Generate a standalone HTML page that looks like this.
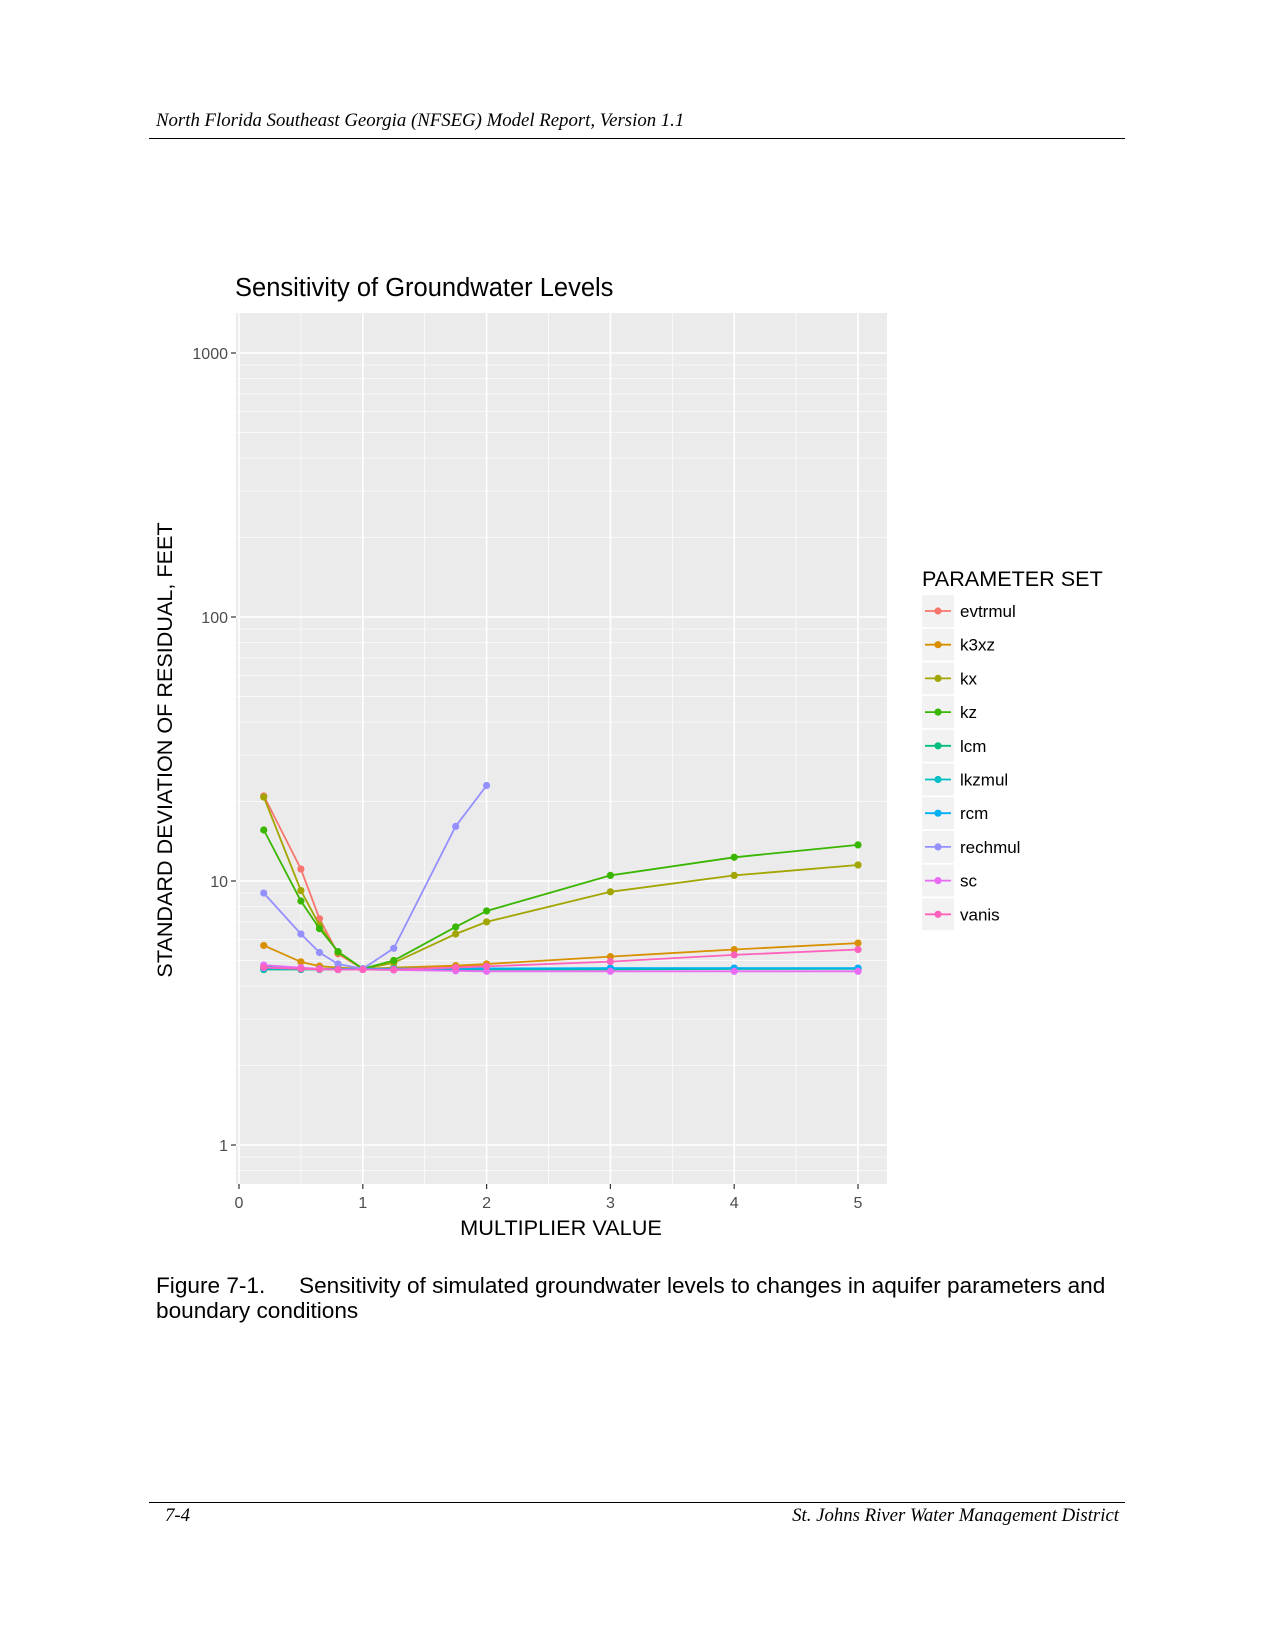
<!DOCTYPE html>
<html><head><meta charset="utf-8"><style>
body{margin:0;background:#fff}
svg{display:block;font-family:"Liberation Sans",Arial,sans-serif}
</style></head><body>
<svg id="chart" width="1275" height="1651" viewBox="0 0 1275 1651" xmlns="http://www.w3.org/2000/svg">
<text x="156" y="126" font-family="Liberation Serif" font-style="italic" font-size="18.8" fill="#000">North Florida Southeast Georgia (NFSEG) Model Report, Version 1.1</text>
<line x1="149" y1="138.5" x2="1125" y2="138.5" stroke="#000" stroke-width="1"/>
<text x="235" y="296" font-size="25.5" fill="#000">Sensitivity of Groundwater Levels</text>
<rect x="236" y="313" width="651" height="871" fill="#ebebeb"/>
<g id="grid"></g>
<g id="series"></g>
<g id="axes"></g>
<text transform="translate(172,750) rotate(-90)" text-anchor="middle" font-size="21.6" fill="#000">STANDARD DEVIATION OF RESIDUAL, FEET</text>
<text x="561" y="1235" text-anchor="middle" font-size="21.7" fill="#000">MULTIPLIER VALUE</text>
<g id="legend">
<text x="922" y="586" font-size="21.6" fill="#000">PARAMETER SET</text>
</g>
<text x="156" y="1293" font-size="22.6" fill="#000">Figure 7-1.<tspan x="299">Sensitivity of simulated groundwater levels to changes in aquifer parameters and</tspan></text>
<text x="156" y="1318" font-size="22.6" fill="#000">boundary conditions</text>
<line x1="149" y1="1502.5" x2="1125" y2="1502.5" stroke="#000" stroke-width="1"/>
<text x="165" y="1521" font-family="Liberation Serif" font-style="italic" font-size="18.8">7-4</text>
<text x="1119" y="1521" text-anchor="end" font-family="Liberation Serif" font-style="italic" font-size="18.8">St. Johns River Water Management District</text>
</svg>
<script>
const seriesNames = ["evtrmul","k3xz","kx","kz","lcm","lkzmul","rcm","rechmul","sc","vanis"];
const colors = ["#F8766D","#D89000","#A3A500","#39B600","#00BF7D","#00BFC4","#00B0F6","#9590FF","#E76BF3","#FF62BC"];
const xFull = [0.2,0.5,0.65,0.8,1,1.25,1.75,2,3,4,5];
const xShort = [0.2,0.5,0.65,0.8,1,1.25,1.75,2];
const evtrmul = [21,11.1,7.2,5.3,4.65,4.65,4.75,4.8];
const k3xz = [5.7,4.94,4.76,4.7,4.65,4.7,4.78,4.85,5.17,5.5,5.82];
const kx = [20.8,9.2,6.8,5.36,4.65,4.9,6.3,7.0,9.1,10.5,11.5];
const kz = [15.6,8.4,6.6,5.4,4.65,5.0,6.7,7.7,10.5,12.3,13.7];
const lcm = [4.62,4.62,4.62,4.62,4.62,4.62,4.62,4.63,4.63,4.64,4.65];
const lkzmul = [4.72,4.66,4.65,4.65,4.65,4.65,4.66,4.66,4.67,4.67,4.67];
const rcm = [4.66,4.64,4.64,4.64,4.65,4.65,4.65,4.66,4.68,4.68,4.68];
const rechmul = [9.0,6.3,5.36,4.85,4.65,5.56,16.1,23];
const sc = [4.8,4.7,4.65,4.62,4.62,4.6,4.57,4.55,4.55,4.55,4.55];
const vanis = [4.7,4.65,4.63,4.62,4.62,4.62,4.7,4.75,4.95,5.25,5.5];
const seriesValues = [evtrmul,k3xz,kx,kz,lcm,lkzmul,rcm,rechmul,sc,vanis];
const seriesX = [xShort,xFull,xFull,xFull,xFull,xFull,xFull,xShort,xFull,xFull];
const xTicks = [0,1,2,3,4,5];
const xTickLabels = ["0","1","2","3","4","5"];
const yTicks = [1,10,100,1000];
const yTickLabels = ["1","10","100","1000"];

const NS="http://www.w3.org/2000/svg";
const PL=236,PR=887,PT=313,PB=1184;
function xs(v){return 239+v*123.8;}
function ys(v){return 1145-Math.log10(v)*264;}
function mk(tag,attrs,parent){const e=document.createElementNS(NS,tag);for(const k in attrs)e.setAttribute(k,attrs[k]);parent.appendChild(e);return e;}
const grid=document.getElementById('grid'),ser=document.getElementById('series'),axes=document.getElementById('axes'),leg=document.getElementById('legend');
for(let d=-1;d<4;d++){for(let m=2;m<=9;m++){const v=m*Math.pow(10,d);const y=ys(v);if(y<PT||y>PB)continue;
 const l=mk('line',{x1:PL,x2:PR,y1:y,y2:y,stroke:'#fff','stroke-width':0.6},grid);
 
 }}
for(let i=0;i<5;i++){const x=xs(i+0.5);const l=mk('line',{x1:x,x2:x,y1:PT,y2:PB,stroke:'#fff','stroke-width':0.7},grid);
 
 }
yTicks.forEach((v,i)=>{const y=ys(v);
 const l=mk('line',{x1:PL,x2:PR,y1:y,y2:y,stroke:'#fff','stroke-width':1.6},grid);
 
 
 const t=mk('line',{x1:PL-5,x2:PL,y1:y,y2:y,stroke:'#333','stroke-width':1.2},axes);
 
 
 const tx=mk('text',{x:PL-8,y:y+6,'text-anchor':'end','font-size':16,fill:'#4d4d4d'},axes);tx.textContent=yTickLabels[i];
 
 });
xTicks.forEach((v,i)=>{const x=xs(v);
 const l=mk('line',{x1:x,x2:x,y1:PT,y2:PB,stroke:'#fff','stroke-width':1.6},grid);
 
 
 const t=mk('line',{x1:x,x2:x,y1:PB,y2:PB+5,stroke:'#333','stroke-width':1.2},axes);
 
 
 const tx=mk('text',{x:x,y:PB+24,'text-anchor':'middle','font-size':16,fill:'#4d4d4d'},axes);tx.textContent=xTickLabels[i];
 
 });
seriesNames.forEach((n,si)=>{const g=mk('g',{},ser);
 
 
 const xv=seriesX[si],yv=seriesValues[si];
 const pts=yv.map((v,i)=>xs(xv[i]).toFixed(1)+','+ys(v).toFixed(1)).join(' ');
 const pl=mk('polyline',{points:pts,fill:'none',stroke:colors[si],'stroke-width':1.8},g);
 
 
 yv.forEach((v,i)=>{const c=mk('circle',{cx:xs(xv[i]),cy:ys(v),r:3.6,fill:colors[si]},g);
  
  });
 const ly=611+si*33.7;
 const kg=mk('g',{},leg);
 
 
 mk('rect',{x:922,y:ly-16,width:32,height:32,fill:'#f2f2f2'},kg);
 mk('line',{x1:925,x2:951,y1:ly,y2:ly,stroke:colors[si],'stroke-width':1.8},kg);
 mk('circle',{cx:938,cy:ly,r:3.6,fill:colors[si]},kg);
 const t=mk('text',{x:960,y:ly+6,'font-size':17,fill:'#000'},kg);t.textContent=n;
});
</script>
</body></html>
